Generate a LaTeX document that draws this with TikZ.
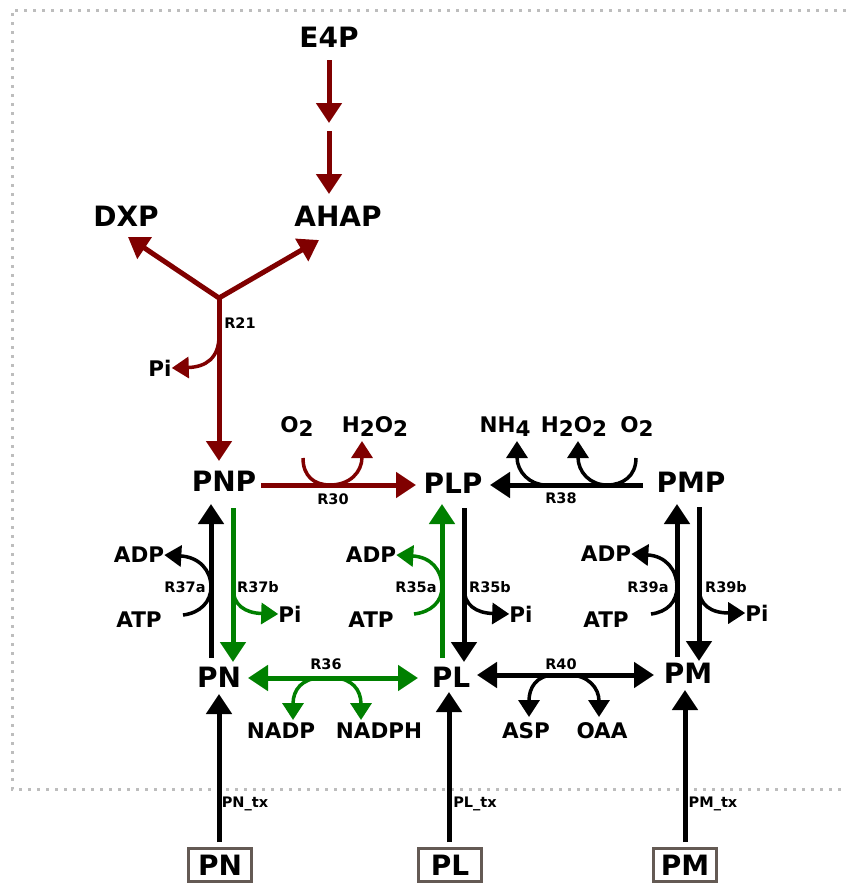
\documentclass[tikz,border=0pt]{standalone}
\usepackage{fontspec}
\setmainfont{DejaVu Sans}
\usetikzlibrary{arrows.meta,calc}
\definecolor{mr}{HTML}{800000}
\definecolor{grn}{HTML}{008000}
\definecolor{boxc}{HTML}{645A54}
\definecolor{dotc}{HTML}{BDBDBD}
\newcommand{\sub}[1]{\raisebox{-4pt}{#1}}
\tikzset{
  big/.style={font=\fontsize{28}{28}\selectfont\bfseries, inner sep=0pt},
  mid/.style={font=\fontsize{21.5}{21.5}\selectfont\bfseries, inner sep=0pt},
  rlab/.style={font=\fontsize{14.5}{14.5}\selectfont\bfseries, inner sep=0pt},
  main/.style={line width=5pt, -{Triangle[length=20pt,width=25pt]}},
  dbl/.style={line width=5pt, {Triangle[length=20pt,width=25pt]}-{Triangle[length=20pt,width=25pt]}},
  side/.style={line width=3.5pt, -{Triangle[length=17pt,width=21pt]}},
  ext/.style={big, draw=boxc, line width=3pt, minimum width=63pt, minimum height=33pt, fill=white},
}
\begin{document}
\begin{tikzpicture}[x=1pt,y=-1pt]
\useasboundingbox (0,0) rectangle (846,884);
% frame
\draw[dotc, line width=3pt, dash pattern=on 3pt off 6pt] (846,10) -- (12,10) -- (12,789) -- (846,789);

% metabolite nodes
\node[big] (e4p)  at (329,37)  {E4P};
\node[big] (dxp)  at (126,216) {DXP};
\node[big] (ahap) at (338,216) {AHAP};
\node[big] (pnp)  at (224,481) {PNP};
\node[big] (plp)  at (453,483) {PLP};
\node[big] (pmp)  at (691,482) {PMP};
\node[big] (pn)   at (219,677) {PN};
\node[big] (pl)   at (451,677) {PL};
\node[big] (pm)   at (688,673) {PM};
\node[ext] (bpn)  at (220,865) {PN};
\node[ext] (bpl)  at (450,865) {PL};
\node[ext] (bpm)  at (685,865) {PM};

% side metabolites
\node[mid] (pi21)  at (160,368) {Pi};
\node[mid] (o2a)   at (297,427) {O\sub{2}};
\node[mid] (h2o2a) at (375,427) {H\sub{2}O\sub{2}};
\node[mid] (nh4)   at (505,427) {NH\sub{4}};
\node[mid] (h2o2b) at (574,427) {H\sub{2}O\sub{2}};
\node[mid] (o2b)   at (637,427) {O\sub{2}};
\node[mid] (adp37) at (139,555) {ADP};
\node[mid] (atp37) at (139,620) {ATP};
\node[mid] (pi37)  at (290,614) {Pi};
\node[mid] (adp35) at (371,555) {ADP};
\node[mid] (atp35) at (371,620) {ATP};
\node[mid] (pi35)  at (521,614) {Pi};
\node[mid] (adp39) at (606,554) {ADP};
\node[mid] (atp39) at (606,620) {ATP};
\node[mid] (pi39)  at (757,613) {Pi};
\node[mid] (nadp)  at (281,731) {NADP};
\node[mid] (nadph) at (379,731) {NADPH};
\node[mid] (asp)   at (526,731) {ASP};
\node[mid] (oaa)   at (602,731) {OAA};

% reaction labels
\node[rlab] at (240,323) {R21};
\node[rlab] at (333,499) {R30};
\node[rlab] at (561,498) {R38};
\node[rlab] at (185,587) {R37a};
\node[rlab] at (258,587) {R37b};
\node[rlab] at (416,587) {R35a};
\node[rlab] at (490,587) {R35b};
\node[rlab] at (648,587) {R39a};
\node[rlab] at (726,587) {R39b};
\node[rlab] at (326,664) {R36};
\node[rlab] at (561,664) {R40};
\node[rlab] at (245,804) {PN\_tx};
\node[rlab] at (475,804) {PL\_tx};
\node[rlab] at (713,804) {PM\_tx};

% E4P -> AHAP
\coordinate (e4pa) at (329,123);
\coordinate (e4pb) at (329,131);
\draw[main, mr] ($(e4p)+(0,23)$) -- (e4pa);
\draw[main, mr] (e4pb) -- ($(ahap)+(-9,-22)$);

% R21
\coordinate (r21) at (219,298);
\draw[mr, line width=5pt, {Triangle[length=20pt,width=25pt]}-{Triangle[length=20pt,width=25pt]}]
  ($(dxp)+(2,21)$) -- (r21) -- ($(ahap)+(-19,24)$);
\draw[main, mr] (r21) -- ($(pnp)+(-5,-20)$);
\draw[side, mr] (219,336) .. controls (219,358) and (206,367) .. (pi21.east);

% R30
\draw[main, mr] ($(pnp)+(37,4)$) -- ($(plp)+(-37,2)$);
\draw[side, mr] ($(o2a)+(6,31)$) .. controls (303,476) and (314,485) .. (330,485)
  .. controls (350,485) and (362,472) .. ($(h2o2a)+(-13,14)$);

% R38
\draw[main] ($(pmp)+(-48,3)$) -- ($(plp)+(37,2)$);
\draw[side] (546,485) .. controls (530,485) and (517,472) .. ($(nh4)+(12,14)$);
\draw[side] ($(o2b)+(-1,31)$) .. controls (636,476) and (623,485) .. (607,485)
  .. controls (590,485) and (578,472) .. ($(h2o2b)+(4,14)$);

% R37
\draw[main] ($(pn)+(-8,-19)$) -- ($(pnp)+(-13,23)$);
\draw[main, grn] ($(pnp)+(9,27)$) -- ($(pn)+(14,-15)$);
\draw[side] ($(atp37)+(44,-5)$) .. controls (200,613) and (211,602) .. (211,587)
  .. controls (211,570) and (199,557) .. (adp37.east);
\draw[side, grn] (233,588) .. controls (233,605) and (245,613) .. (pi37.west);

% R35
\draw[main, grn] ($(pl)+(-9,-19)$) -- ($(plp)+(-11,21)$);
\draw[main] ($(plp)+(11,25)$) -- ($(pl)+(13,-15)$);
\draw[side, grn] ($(atp35)+(43,-6)$) .. controls (431,612) and (442,602) .. (442,587)
  .. controls (442,570) and (431,557) .. (adp35.east);
\draw[side] (464,588) .. controls (464,605) and (476,613) .. (pi35.west);

% R39
\draw[main] ($(pm)+(-11,-16)$) -- ($(pmp)+(-14,22)$);
\draw[main] ($(pmp)+(8,25)$) -- ($(pm)+(11,-12)$);
\draw[side] ($(atp39)+(45,-6)$) .. controls (667,612) and (677,602) .. (677,587)
  .. controls (677,570) and (666,556) .. (adp39.east);
\draw[side] (699,588) .. controls (699,605) and (711,613) .. (pi39.west);

% R36
\draw[dbl, grn] ($(pn)+(29,1)$) -- ($(pl)+(-33,1)$);
\draw[side, grn] (321,678) .. controls (302,678) and (293,690) .. ($(nadp)+(12,-11)$);
\draw[side, grn] (333,678) .. controls (352,678) and (361,690) .. ($(nadph)+(-18,-11)$);

% R40
\draw[dbl] ($(pl)+(26,-2)$) -- ($(pm)+(-34,2)$);
\draw[side] (555,675) .. controls (536,675) and (529,688) .. ($(asp)+(3,-14)$);
\draw[side] (569,675) .. controls (588,675) and (599,688) .. ($(oaa)+(-3,-14)$);

% transport
\draw[main] ($(bpn.north)+(-1,-5)$) -- ($(pn)+(0,17)$);
\draw[main] ($(bpl.north)+(-1,-5)$) -- ($(pl)+(-2,15)$);
\draw[main] ($(bpm.north)+(0,-5)$) -- ($(pm)+(-3,17)$);
\end{tikzpicture}
\end{document}
